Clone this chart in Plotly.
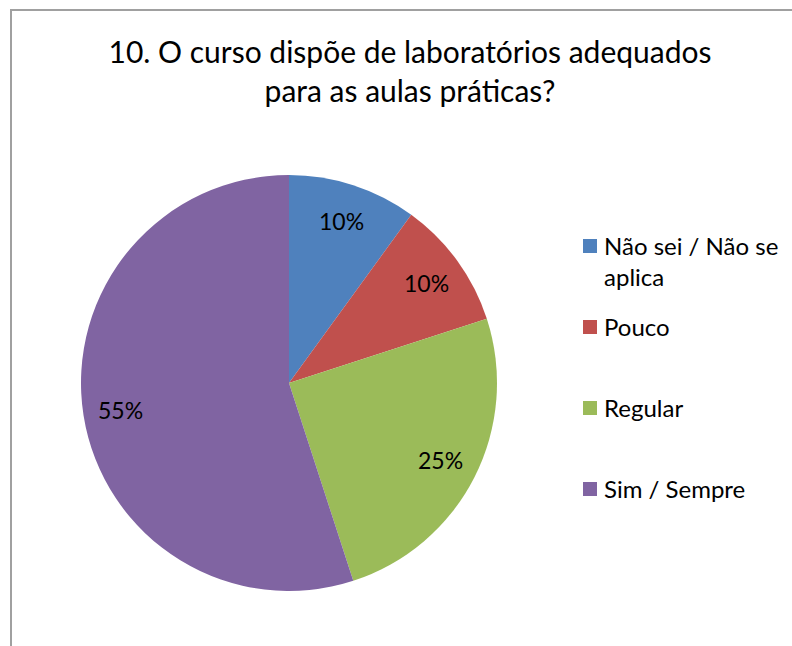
import math
import plotly.graph_objects as go

# Survey answers and their shares (%)
categories = ["Não sei / Não se aplica", "Pouco", "Regular", "Sim / Sempre"]
legend_labels = ["Não sei / Não se<br>aplica", "Pouco", "Regular", "Sim / Sempre"]
values = [10, 10, 25, 55]
colors = ["#4F81BD", "#C0504D", "#9BBB59", "#8064A2"]
title_text = "10. O curso dispõe de laboratórios adequados<br>para as aulas práticas?"

W, H = 792, 646
FONT = "Lato"

# pie geometry in pixels
cx, cy, R = 289, 383, 208


def px(x):
    return x / W


def py(y):
    return 1 - y / H


fig = go.Figure()
fig.add_trace(go.Pie(
    labels=categories,
    values=values,
    marker=dict(colors=colors, line=dict(width=0)),
    sort=False,
    direction="clockwise",
    rotation=0,
    textinfo="none",
    showlegend=False,
    domain=dict(x=[px(cx - R), px(cx + R)], y=[py(cy + R), py(cy - R)]),
))

annotations = []

# percentage labels placed along each slice's mid-angle
total = sum(values)
cum = 0
for v in values:
    mid = (cum + v / 2) / total * 2 * math.pi
    cum += v
    r = 0.82 * R
    x = cx + r * math.sin(mid)
    y = cy - r * math.cos(mid)
    annotations.append(dict(
        x=px(x), y=py(y), xref="paper", yref="paper",
        text=f"{v}%", showarrow=False,
        font=dict(family=FONT, size=23, color="#000000"),
        xanchor="center", yanchor="middle",
    ))

# legend drawn at the right of the pie
shapes = []
legend_y = [246, 327, 408, 489]
for lab, col, ly in zip(legend_labels, colors, legend_y):
    shapes.append(dict(
        type="rect", xref="paper", yref="paper",
        x0=px(583), x1=px(597), y0=py(ly + 7), y1=py(ly - 7),
        fillcolor=col, line=dict(width=0),
    ))
    annotations.append(dict(
        x=px(602), y=py(ly - 17), xref="paper", yref="paper",
        text=lab, showarrow=False, align="left",
        font=dict(family=FONT, size=24, color="#000000"),
        xanchor="left", yanchor="top",
    ))

# chart area border
shapes.append(dict(
    type="rect", xref="paper", yref="paper",
    x0=px(11), x1=px(W + 20), y0=py(H + 20), y1=py(10),
    line=dict(color="#A0A0A0", width=2), fillcolor="rgba(0,0,0,0)",
))

fig.update_layout(
    width=W, height=H, autosize=False,
    margin=dict(l=0, r=0, t=0, b=0),
    paper_bgcolor="white", plot_bgcolor="white",
    title=dict(
        text=title_text, x=px(410), xanchor="center",
        y=py(63), yanchor="middle", xref="paper", yref="paper",
        font=dict(family=FONT, size=30, color="#000000"),
    ),
    annotations=annotations,
    shapes=shapes,
)

fig.write_html("out.html")
